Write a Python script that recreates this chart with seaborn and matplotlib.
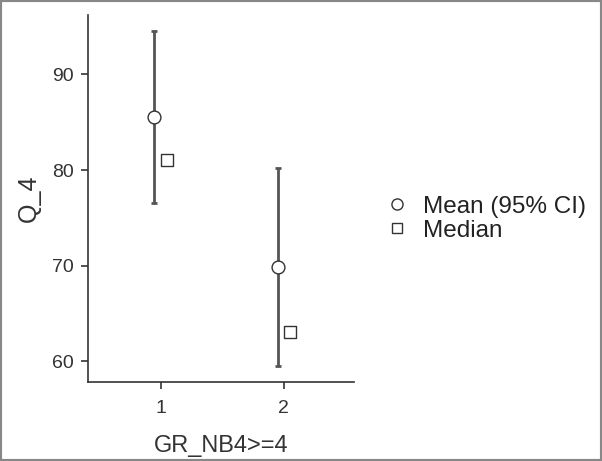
import matplotlib
matplotlib.use("Agg")
import matplotlib.pyplot as plt
from matplotlib.lines import Line2D
from matplotlib.patches import Rectangle
import seaborn as sns
import pandas as pd
import numpy as np

groups = [1, 2]
means = [85.5, 69.8]
ci_low = [76.5, 59.5]
ci_high = [94.5, 80.2]
medians = [81.0, 63.0]
yticks = [60, 70, 80, 90]
xlabel = "GR_NB4>=4"
ylabel = "Q_4"

sns.set_theme(style="ticks")
plt.rcParams['font.family'] = ['Liberation Sans', 'DejaVu Sans']

fig = plt.figure(figsize=(6.02, 4.61), dpi=100)
ax = fig.add_axes([0.146, 0.171, 0.442, 0.796])

dodge = 0.05
df_mean = pd.DataFrame({"x": np.array(groups) - dodge, "y": means,
                        "lo": ci_low, "hi": ci_high})
df_med = pd.DataFrame({"x": np.array(groups) + dodge, "y": medians})

ecol = "#555555"
ax.errorbar(df_mean["x"], df_mean["y"],
            yerr=[df_mean["y"] - df_mean["lo"], df_mean["hi"] - df_mean["y"]],
            fmt="none", ecolor=ecol, elinewidth=2, capsize=2, capthick=2, zorder=2)
sns.scatterplot(data=df_mean, x="x", y="y", ax=ax, marker="o", s=85,
                facecolor="white", edgecolor="#333333", linewidth=1.0, zorder=3, legend=False)
sns.scatterplot(data=df_med, x="x", y="y", ax=ax, marker="s", s=65,
                facecolor="white", edgecolor="#333333", linewidth=1.0, zorder=3, legend=False)

ax.set_xlim(0.41, 2.57)
ax.set_ylim(57.8, 96.2)
ax.set_xticks(groups)
ax.set_yticks(yticks)
ax.set_xticklabels([str(g) for g in groups])
ax.tick_params(axis="both", colors="#333333", labelsize=14, length=5, width=1.2,
               labelcolor="#333333", pad=5)
ax.tick_params(axis="x", pad=8)
for s in ["top", "right"]:
    ax.spines[s].set_visible(False)
for s in ["left", "bottom"]:
    ax.spines[s].set_color("#333333")
    ax.spines[s].set_linewidth(1.2)
ax.set_xlabel(xlabel, fontsize=17, color="#333333", labelpad=13)
ax.set_ylabel(ylabel, fontsize=18, color="#333333", labelpad=8)

handles = [Line2D([], [], marker="o", linestyle="none", markerfacecolor="white",
                  markeredgecolor="#333333", markersize=8, markeredgewidth=1.0),
           Line2D([], [], marker="s", linestyle="none", markerfacecolor="white",
                  markeredgecolor="#333333", markersize=7, markeredgewidth=1.0)]
fig.legend(handles, ["Mean (95% CI)", "Median"], loc="center left",
           bbox_to_anchor=(0.603, 0.525), frameon=False, fontsize=17.5,
           handletextpad=0.55, labelspacing=0.08, handlelength=1.0,
           labelcolor="#222222")

fig.patches.append(Rectangle((0, 0), 1, 1, transform=fig.transFigure, fill=False,
                             edgecolor="#888888", linewidth=3, zorder=10))

fig.savefig("out.png", dpi=100)
